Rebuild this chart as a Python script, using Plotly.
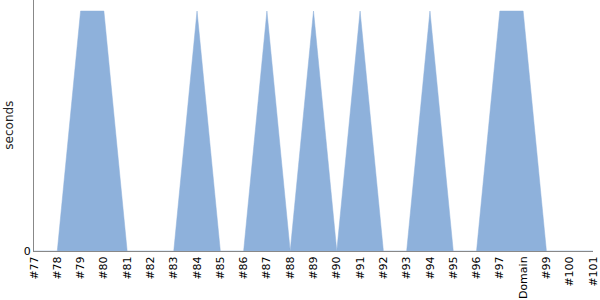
import plotly.graph_objects as go

categories = ["#77", "#78", "#79", "#80", "#81", "#82", "#83", "#84", "#85", "#86",
              "#87", "#88", "#89", "#90", "#91", "#92", "#93", "#94", "#95", "#96",
              "#97", "Domain", "#99", "#100", "#101"]
seconds = [0, 0, 1, 1, 0, 0, 0, 1, 0, 0,
           1, 0, 1, 0, 1, 0, 0, 1, 0, 0,
           1, 1, 0, 0, 0]

fig = go.Figure()
fig.add_trace(go.Scatter(
    x=list(range(len(categories))), y=seconds, mode="lines",
    fill="tozeroy", fillcolor="#8EB1DB",
    line=dict(color="#8EB1DB", width=0.5),
    hoverinfo="skip", showlegend=False,
))

fig.update_layout(
    width=600, height=300,
    margin=dict(l=34, r=4, t=0, b=49),
    paper_bgcolor="white", plot_bgcolor="white",
    font=dict(family="DejaVu Sans", size=11, color="black"),
    xaxis=dict(
        tickmode="array", tickvals=list(range(len(categories))), ticktext=categories,
        tickangle=-90, range=[0, len(categories) - 1], ticklabeloverflow="allow",
        showgrid=False, zeroline=False, showline=True, linecolor="#888888", linewidth=1,
        ticks="", ticklen=0,
    ),
    yaxis=dict(
        range=[0, 1.046], tickvals=[0], ticktext=["0"],
        showgrid=False, zeroline=False, showline=True, linecolor="#888888", linewidth=1,
        ticks="",
    ),
    annotations=[dict(
        text="seconds", xref="paper", yref="paper", x=-34 / 562, y=0.5,
        xanchor="left", yanchor="middle", showarrow=False, textangle=-90,
        font=dict(size=12, color="#222222"), xshift=-1,
    )],
)

fig.write_html("out.html")
